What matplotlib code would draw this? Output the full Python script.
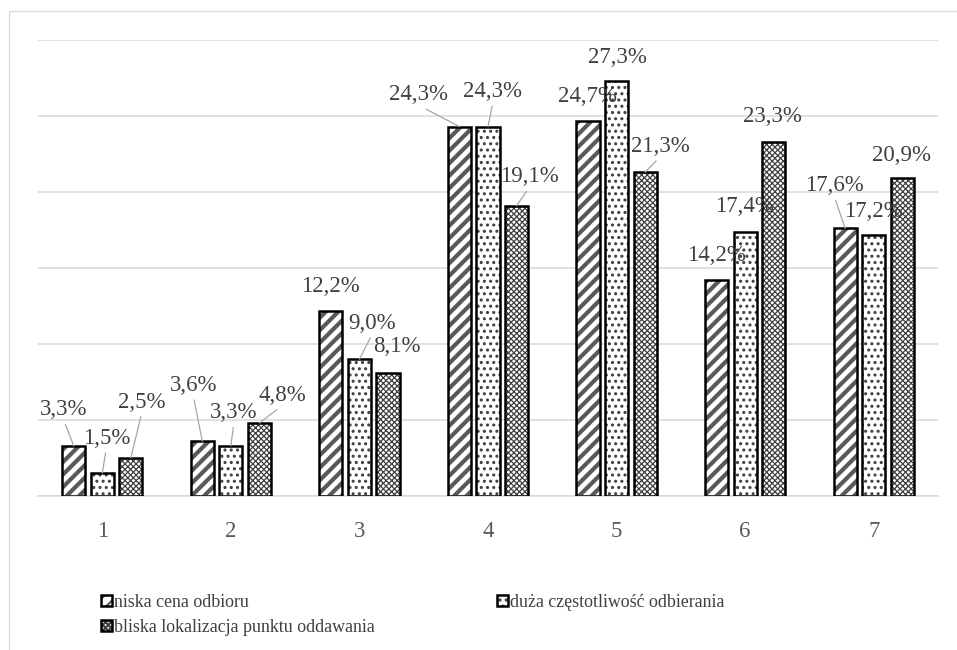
import matplotlib.pyplot as plt
import numpy as np
from matplotlib.patches import Rectangle

plt.rcParams['font.family'] = ['Liberation Serif', 'DejaVu Serif']

# dane
kategorie = ['1', '2', '3', '4', '5', '6', '7']
niska_cena = [3.3, 3.6, 12.2, 24.3, 24.7, 14.2, 17.6]
duza_czestotliwosc = [1.5, 3.3, 9.0, 24.3, 27.3, 17.4, 17.2]
bliska_lokalizacja = [2.5, 4.8, 8.1, 19.1, 21.3, 23.3, 20.9]
nazwy = ['niska cena odbioru', 'duża częstotliwość odbierania',
         'bliska lokalizacja punktu oddawania']

# przesuniecia etykiet (px) i czy rysowac linie odniesienia
etykiety_1 = [(-10, 36, 1), (-9, 56, 1), (0, 24, 0), (-41, 32, 1), (-1, 24, 0), (0, 25, 0), (-11, 43, 1)]
etykiety_2 = [(4, 35, 1), (3, 33, 1), (13, 36, 1), (5, 35, 1), (1, 24, 0), (-1, 25, 0), (0, 23, 0)]
etykiety_3 = [(11, 56, 1), (23, 28, 1), (9, 26, 0), (13, 29, 1), (15, 26, 1), (-1, 25, 0), (-1, 23, 0)]

DPI = 150
fig = plt.figure(figsize=(957 / DPI, 650 / DPI), dpi=DPI)
ax = fig.add_axes([38 / 957, 1 - 496 / 650, 900 / 957, 456 / 650])

x = np.arange(len(kategorie))
szer = 0.18
krok = 0.222

serie = [
    (niska_cena, '////', '#595959', 2.0, etykiety_1),
    (duza_czestotliwosc, '....', '#404040', 0.9, etykiety_2),
    (bliska_lokalizacja, 'x' * 9, '#404040', 0.6, etykiety_3),
]

uchwyty = []
for k, (vals, hatch, hc, hlw, ety) in enumerate(serie):
    pos = x + (k - 1) * krok
    with plt.rc_context({'hatch.linewidth': hlw}):
        b1 = ax.bar(pos, vals, szer, color='white', edgecolor=hc, hatch=hatch,
                    linewidth=0, zorder=2)
    b2 = ax.bar(pos, vals, szer, fill=False, edgecolor='black', linewidth=1.2, zorder=3)
    uchwyty.append((b1, b2))
    for i, v in enumerate(vals):
        dx, dy, linia = ety[i]
        ap = None
        if linia:
            ap = dict(arrowstyle='-', color='#a6a6a6', lw=0.6, shrinkA=0, shrinkB=0,
                      relpos=(0.5, 0))
        ax.annotate(f'{v:.1f}%'.replace('.', ','), xy=(pos[i], v), xytext=(dx, dy),
                    textcoords='offset pixels', ha='center', va='center',
                    fontsize=11, color='#404040', arrowprops=ap, zorder=4)

ax.set_xlim(-0.5, len(kategorie) - 0.5)
ax.set_ylim(0, 30)
ax.set_yticks(np.arange(0, 31, 5))
ax.set_yticklabels([])
ax.set_xticks(x)
ax.set_xticklabels(kategorie, fontsize=11, color='#595959')
ax.tick_params(axis='both', length=0)
ax.tick_params(axis='x', pad=12)
ax.grid(axis='y', color='#d9d9d9', linewidth=0.75, zorder=0)
ax.set_axisbelow(True)
for s in ['top', 'right', 'left']:
    ax.spines[s].set_visible(False)
ax.spines['bottom'].set_color('#d9d9d9')
ax.spines['bottom'].set_linewidth(0.75)

# legenda (kolejnosc wierszami jak w Excelu)
fig.legend([uchwyty[0], uchwyty[2], uchwyty[1]], [nazwy[0], nazwy[2], nazwy[1]],
           ncol=2, loc='upper left', bbox_to_anchor=(101 / 957, 1 - 594 / 650),
           frameon=False, fontsize=8.6, handlelength=0.6, handleheight=0.6,
           handletextpad=0.15, columnspacing=6.8, labelspacing=0.45,
           borderpad=0, borderaxespad=0, labelcolor='#404040')

# ramka wykresu
fig.patches.append(Rectangle((8.5 / 957, -0.1), 2, 1.1 - 11.5 / 650,
                             transform=fig.transFigure, fill=False,
                             edgecolor='#d9d9d9', linewidth=0.6))

plt.savefig('out.png', dpi=DPI)
